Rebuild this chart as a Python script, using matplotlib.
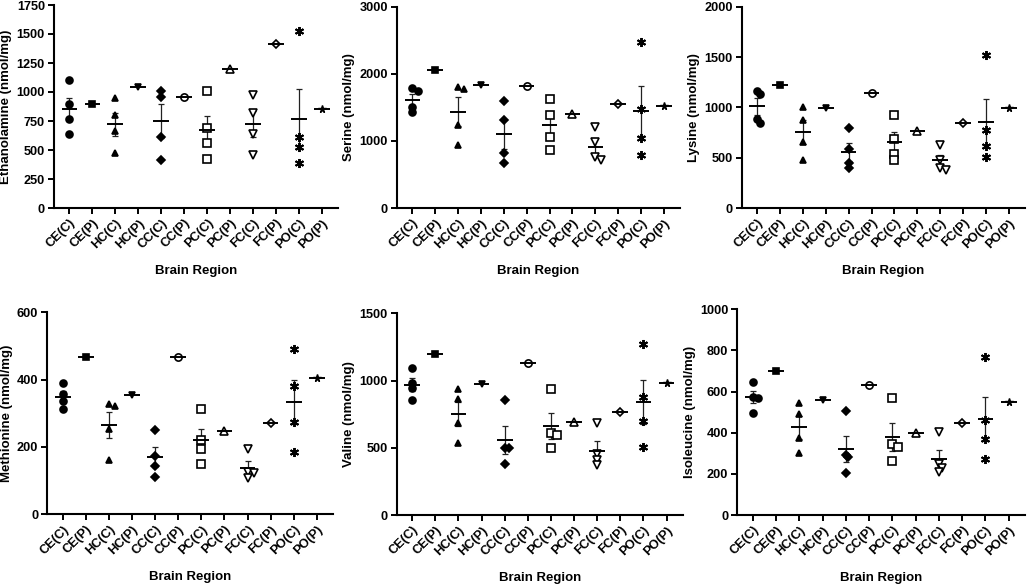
import numpy as np
import matplotlib
matplotlib.use("Agg")
import matplotlib.pyplot as plt

plt.rcParams['font.family'] = ['Liberation Sans', 'DejaVu Sans']
plt.rcParams['font.weight'] = 'bold'
plt.rcParams['axes.labelweight'] = 'bold'

regions = ["CE(C)", "CE(P)", "HC(C)", "HC(P)", "CC(C)", "CC(P)",
           "PC(C)", "PC(P)", "FC(C)", "FC(P)", "PO(C)", "PO(P)"]

# control groups: 4 samples each, order CE, HC, CC, PC, FC, PO
ethanolamine_c = [[1103, 894, 767, 635], [945, 802, 664, 477], [1011, 960, 615, 411],
                  [1011, 687, 563, 425], [975, 820, 640, 455], [1529, 612, 523, 391]]
ethanolamine_p = [900, 1045, 957, 1195, 1411, 856]

serine_c = [[1783, 1743, 1510, 1426], [1808, 1768, 1237, 939], [1594, 1311, 824, 666],
            [1629, 1386, 1063, 864], [1210, 985, 755, 715], [2469, 1470, 1038, 790]]
serine_p = [2050, 1828, 1823, 1396, 1545, 1525]

lysine_c = [[1167, 1134, 889, 849], [1005, 879, 657, 474], [799, 590, 451, 401],
            [922, 687, 541, 481], [630, 480, 400, 380], [1516, 773, 617, 507]]
lysine_p = [1221, 994, 1138, 766, 846, 992]

methionine_c = [[391, 356, 338, 312], [329, 322, 252, 161], [250, 173, 143, 110],
                [312, 220, 195, 150], [194, 127, 122, 109], [490, 382, 275, 185]]
methionine_p = [467, 355, 467, 248, 272, 406]

valine_c = [[1091, 982, 947, 853], [935, 860, 682, 533], [855, 496, 496, 377],
            [937, 610, 595, 496], [682, 454, 409, 372], [1272, 877, 699, 508]]
valine_p = [1200, 977, 1128, 694, 768, 979]

isoleucine_c = [[648, 575, 571, 498], [546, 491, 372, 299], [507, 292, 280, 203],
                [571, 347, 332, 263], [405, 250, 230, 210], [770, 462, 368, 272]]
isoleucine_p = [702, 559, 631, 400, 446, 551]

panels = [
    ("Ethanolamine (nmol/mg)", ethanolamine_c, ethanolamine_p, np.arange(0, 1751, 250)),
    ("Serine (nmol/mg)", serine_c, serine_p, np.arange(0, 3001, 1000)),
    ("Lysine (nmol/mg)", lysine_c, lysine_p, np.arange(0, 2001, 500)),
    ("Methionine (nmol/mg)", methionine_c, methionine_p, np.arange(0, 601, 200)),
    ("Valine (nmol/mg)", valine_c, valine_p, np.arange(0, 1501, 500)),
    ("Isoleucine (nmol/mg)", isoleucine_c, isoleucine_p, np.arange(0, 1001, 200)),
]

# marker for each of the 12 groups (style, filled, size, edge width)
markers = [("o", True, 5, 1.2), ("s", True, 5, 1.2), ("^", True, 5, 1.2), ("v", True, 5, 1.2),
           ("D", True, 3.6, 1.2), ("o", False, 5.2, 1.2), ("s", False, 5.2, 1.2),
           ("^", False, 5.5, 1.2), ("v", False, 5.5, 1.2), ("D", False, 4.2, 1.2),
           ((6, 2, 0), True, 6.5, 1.4), ("*", True, 5.5, 1.0)]

# axes rectangles in pixels: left, top, right, bottom
W, H = 1028, 585
rects = [(54, 5, 338, 208), (397, 6.7, 680, 208), (741.7, 6.7, 1025, 208),
         (47.3, 312.3, 333, 514.3), (396.7, 313.3, 682.7, 515), (737.3, 309.3, 1025, 515)]

fig = plt.figure(figsize=(W / 100, H / 100), dpi=100)


def swarm_offsets(ax, x, vals, diam):
    # nudge points sideways only when they would sit almost on top of each other
    pts = ax.transData.transform(np.column_stack([np.full(len(vals), x), vals]))
    ys = pts[:, 1]
    step = diam * 0.4
    placed = []
    offs = []
    for y in ys:
        for k in [0, 1, -1, 2, -2, 3, -3]:
            ox = k * step
            if all(np.hypot(ox - px, y - py) >= diam * 0.6 for px, py in placed):
                break
        placed.append((ox, y))
        offs.append(ox)
    px_per_unit = ax.transData.transform((1, 0))[0] - ax.transData.transform((0, 0))[0]
    return np.array(offs) / px_per_unit


for (ylab, ctrl, pat, yt), (l, t, r, b) in zip(panels, rects):
    ax = fig.add_axes([l / W, 1 - b / H, (r - l) / W, (b - t) / H])
    ax.set_xlim(-0.67, 11.7)
    ax.set_ylim(0, yt[-1])
    for i in range(12):
        m, filled, ms, mew = markers[i]
        fc = "black" if filled else "white"
        if i % 2 == 0:
            vals = np.array(ctrl[i // 2], dtype=float)
            mean = vals.mean()
            sem = vals.std(ddof=1) / np.sqrt(len(vals))
            ax.errorbar(i, mean, yerr=sem, fmt="none", ecolor="#222222",
                        elinewidth=0.9, capsize=2.5, capthick=0.9, zorder=2)
            ax.hlines(mean, i - 0.34, i + 0.34, color="black", lw=1.4, zorder=4)
            offs = swarm_offsets(ax, i, vals, ms * 1.39)
            ax.plot(i + offs, vals, linestyle="none", marker=m, ms=ms, mfc=fc,
                    mec="black", mew=mew, zorder=3, clip_on=False)
        else:
            v = pat[i // 2]
            ax.hlines(v, i - 0.34, i + 0.34, color="black", lw=1.4, zorder=4)
            ax.plot([i], [v], linestyle="none", marker=m, ms=ms, mfc=fc,
                    mec="black", mew=mew, zorder=3, clip_on=False)

    ax.set_xticks(range(12))
    ax.set_xticklabels(regions, rotation=45, ha="right", rotation_mode="anchor",
                       fontsize=9.2)
    ax.set_yticks(yt)
    ax.set_yticklabels([str(v) for v in yt], fontsize=9.2)
    ax.spines["top"].set_visible(False)
    ax.spines["right"].set_visible(False)
    ax.spines["left"].set_linewidth(1.5)
    ax.spines["bottom"].set_linewidth(1.5)
    ax.tick_params(axis="both", direction="out", length=4.5, width=1.4, pad=2)
    ax.set_ylabel(ylab, fontsize=9.5, labelpad=3)
    ax.set_xlabel("Brain Region", fontsize=9.5, labelpad=10)

fig.savefig("out.png", dpi=100)
